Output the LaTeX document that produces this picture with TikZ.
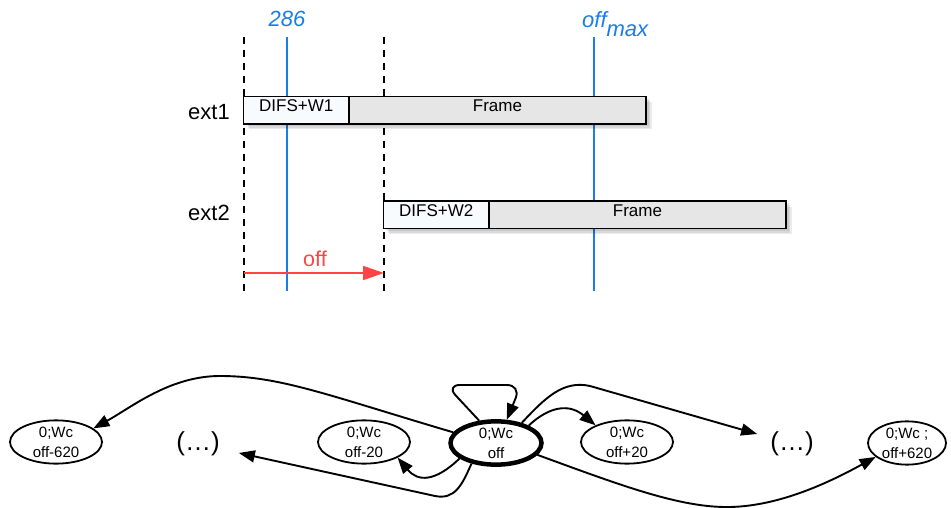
\documentclass[tikz,border=0pt]{standalone}
\usepackage{fontspec}
\setmainfont{Liberation Sans}
\usetikzlibrary{arrows.meta,shapes.geometric,shadows}
\definecolor{myblue}{RGB}{25,125,235}
\definecolor{myred}{RGB}{255,68,68}
\definecolor{lightbox}{RGB}{247,251,253}
\definecolor{framegray}{RGB}{230,230,230}
\begin{document}
\begin{tikzpicture}[x=1pt,y=-1pt,
  softshadow/.style={
    general shadow={fill=black,opacity=.08,shadow xshift=2.5pt,shadow yshift=-2.5pt},
    general shadow={fill=black,opacity=.08,shadow xshift=4pt,shadow yshift=-4pt},
    general shadow={fill=black,opacity=.08,shadow xshift=5.5pt,shadow yshift=-5.5pt}},
  seg/.style={draw,line width=1.6pt,rectangle,inner sep=0pt,outer sep=0pt,
    minimum height=27.5pt,anchor=north west,text height=12.5pt,text depth=9pt,
    font=\fontsize{17}{20}\selectfont,softshadow},
  difs/.style={seg,fill=lightbox,minimum width=105.5pt},
  framebox/.style={seg,fill=framegray,minimum width=297pt},
  extlabel/.style={font=\fontsize{22}{25}\selectfont,anchor=base east,inner sep=0pt},
  dashline/.style={line width=1.5pt,dash pattern=on 7pt off 6pt},
  blueline/.style={myblue,line width=1.8pt},
  bluelabel/.style={myblue,font=\fontsize{22}{26}\selectfont\itshape,inner sep=0pt},
  st/.style={ellipse,draw,line width=1.8pt,minimum width=92pt,minimum height=42pt,
    inner sep=0pt,align=center,font=\fontsize{15}{20}\selectfont},
  dots/.style={font=\fontsize{26}{30}\selectfont,inner ysep=0pt},
  conn/.style={line width=1.9pt,-{Triangle[length=16pt,width=12pt]}},
]
\useasboundingbox (0,0) rectangle (951,508);

% time lines
\draw[dashline] (244,37) -- (244,293);
\draw[dashline] (384,37) -- (384,293);
\draw[blueline] (287,37) -- (287,291);
\draw[blueline] (594,37) -- (594,291);
\node[bluelabel,anchor=base] (l286) at (287,27) {286};
\node[bluelabel,anchor=base west] (loff) at (582,28) {off\raisebox{-9pt}{max}};

% ext1
\node[difs] (e1d) at (243.5,96.5) {DIFS+W1};
\node[framebox] (e1f) at (349,96.5) {Frame};
\node[extlabel] (ext1) at (230,120) {ext1};
% ext2
\node[difs] (e2d) at (383.5,201) {DIFS+W2};
\node[framebox] (e2f) at (489,201) {Frame};
\node[extlabel] (ext2) at (230,221) {ext2};

% offset arrow
\coordinate (oa) at (244,273);
\coordinate (ob) at (384,273);
\draw[myred,line width=1.8pt,-{Triangle[length=21pt,width=14pt]}] (oa) -- (ob);
\node[myred,font=\fontsize{21.5}{24}\selectfont,anchor=base,inner sep=0pt] (offl) at (315,266) {off};

% state graph
\node[st] (m620) at (56,442) {0;Wc\\off-620};
\node[dots,inner xsep=19pt] (dl) at (198,444) {(…)};
\node[st] (m20) at (364,442) {0;Wc\\off-20};
\node[st,line width=4.5pt,minimum width=91pt,minimum height=43pt] (c) at (496,443) {0;Wc\\off};
\node[st] (p20) at (627,442) {0;Wc\\off+20};
\node[dots,inner xsep=13pt] (dr) at (792,444) {(…)};
\node[st,minimum width=78pt,minimum height=41pt] (p620) at (907,443) {0;Wc ;\\off+620};

\draw[conn] (c.166) .. controls (327,395) and (280,376) .. (220,376)
  .. controls (170,376) and (132,407) .. (m620.20);
\draw[conn] (c.203) .. controls (435,482) and (418,482) .. (m20.335);
\draw[conn] (c.220) .. controls (462,485) and (455,500) .. (435,496) -- (dl);
\draw[conn,rounded corners=14pt] (c.127) -- (446,385) -- (521,385) -- (c.65);
\draw[conn] (c.28) .. controls (543,412) and (565,400) .. (p20.152);
\draw[conn] (c.38) .. controls (545,398) and (563,380) .. (590,386) -- (dr);
\draw[conn] (c.-16) .. controls (620,485) and (680,508) .. (730,507)
  .. controls (780,506) and (830,482) .. (p620.204);
\end{tikzpicture}
\end{document}
